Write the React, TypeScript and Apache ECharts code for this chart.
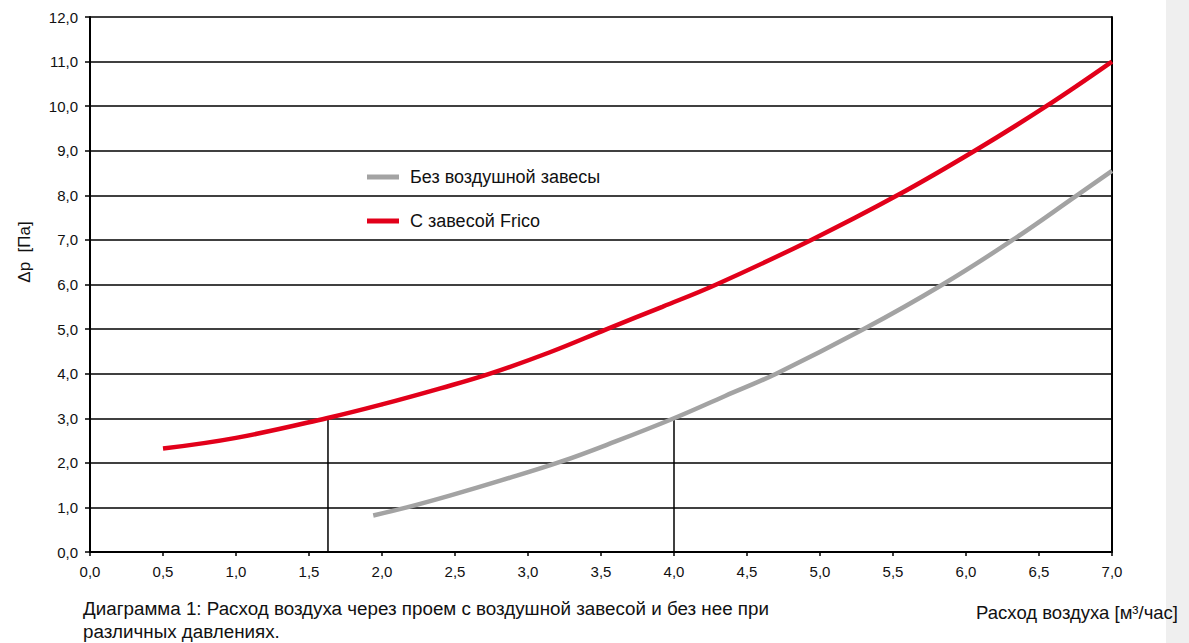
import React, { useEffect, useRef } from "react";
import * as echarts from "echarts";

const FONT = "'Liberation Sans', Arial, Helvetica, sans-serif";

const xTicks = { min: 0, max: 7, interval: 0.5 };
const yTicks = { min: 0, max: 12, interval: 1 };

const seriesNames = ["Без воздушной завесы", "С завесой Frico"];

const withoutCurtain: [number, number][] = [
  [1.94, 0.82], [2.17, 1.0], [2.47, 1.27], [2.81, 1.6], [3.22, 2.02],
  [3.6, 2.48], [4.0, 3.0], [4.35, 3.5], [4.7, 4.0], [5.3, 5.0],
  [5.84, 6.0], [6.32, 7.0], [6.76, 8.0], [7.0, 8.55],
];

const withCurtain: [number, number][] = [
  [0.5, 2.32], [1.0, 2.56], [1.62, 3.0], [2.0, 3.31], [2.4, 3.67],
  [2.74, 4.0], [3.15, 4.48], [3.54, 5.0], [3.92, 5.5], [4.29, 6.0],
  [4.94, 7.0], [5.53, 8.0], [6.06, 9.0], [6.55, 10.0], [7.0, 11.0],
];

const dropPoints: [number, number][] = [
  [1.63, 3.0],
  [4.0, 3.0],
];

const yAxisTitle = "Δp  [Па]";
const xAxisTitle = "Расход воздуха [м³/час]";
const captionLines = [
  "Диаграмма 1: Расход воздуха через проем с воздушной завесой и без нее при",
  "различных давлениях.",
];

const fmt = (v: number) => v.toFixed(1).replace(".", ",");

export default function App() {
  const ref = useRef<HTMLDivElement>(null);
  useEffect(() => {
    if (!ref.current) return;
    const chart = echarts.init(ref.current, undefined, { renderer: "svg" });
    const dropSeries = dropPoints.map((p, i) => ({
      name: "drop" + i,
      type: "line",
      data: [[p[0], 0], [p[0], p[1]]],
      symbol: "none",
      silent: true,
      lineStyle: { color: "#000", width: 1.5 },
      z: 1,
    }));
    chart.setOption({
      animation: false,
      backgroundColor: "#ffffff",
      textStyle: { fontFamily: FONT },
      grid: { left: 90, right: 77, top: 17, bottom: 91, containLabel: false },
      legend: {
        data: seriesNames,
        orient: "vertical",
        left: 362,
        top: 162,
        itemWidth: 32,
        itemHeight: 5,
        itemGap: 24,
        icon: "rect",
        textStyle: { fontSize: 18, color: "#111", lineHeight: 20, fontFamily: FONT, padding: [0, 0, 0, 6] },
      },
      xAxis: {
        type: "value",
        min: xTicks.min,
        max: xTicks.max,
        interval: xTicks.interval,
        axisLine: { show: true, onZero: false, lineStyle: { color: "#000", width: 2 } },
        axisTick: { show: true, inside: false, length: 4, lineStyle: { color: "#000", width: 1.5 } },
        axisLabel: { formatter: fmt, fontSize: 15, color: "#111", margin: 12, fontFamily: FONT },
        splitLine: { show: false },
      },
      yAxis: [
        {
          type: "value",
          min: yTicks.min,
          max: yTicks.max,
          interval: yTicks.interval,
          axisLine: { show: true, lineStyle: { color: "#000", width: 2 } },
          axisTick: { show: true, inside: false, length: 5, lineStyle: { color: "#000", width: 1.5 } },
          axisLabel: { formatter: fmt, fontSize: 15, color: "#111", margin: 12, fontFamily: FONT },
          splitLine: { show: true, lineStyle: { color: "#000", width: 1.5 } },
        },
        {
          type: "value",
          position: "right",
          min: yTicks.min,
          max: yTicks.max,
          interval: yTicks.interval,
          axisLine: { show: true, lineStyle: { color: "#000", width: 2 } },
          axisTick: { show: false },
          axisLabel: { show: false },
          splitLine: { show: false },
        },
      ],
      series: [
        {
          name: seriesNames[0],
          type: "line",
          data: withoutCurtain,
          smooth: 0.4,
          symbol: "none",
          color: "#a3a3a3",
          lineStyle: { color: "#a3a3a3", width: 4.5 },
          z: 3,
        },
        {
          name: seriesNames[1],
          type: "line",
          data: withCurtain,
          smooth: 0.4,
          symbol: "none",
          color: "#e2001a",
          lineStyle: { color: "#e2001a", width: 4.5 },
          z: 4,
        },
        ...dropSeries,
      ],
      graphic: [
        {
          type: "rect",
          shape: { x: 1166, y: 0, width: 23, height: 643 },
          style: { fill: "#efefef" },
          silent: true,
        },
        {
          type: "text",
          x: 24,
          y: 252,
          rotation: Math.PI / 2,
          style: {
            text: yAxisTitle,
            fontSize: 17,
            fontFamily: FONT,
            fill: "#111",
            align: "center",
            verticalAlign: "middle",
          },
        },
        {
          type: "text",
          x: 1178,
          y: 612,
          style: {
            text: xAxisTitle,
            fontSize: 18.5,
            fontFamily: FONT,
            fill: "#111",
            align: "right",
            verticalAlign: "middle",
          },
        },
        {
          type: "text",
          x: 83,
          y: 608,
          style: {
            text: captionLines[0],
            fontSize: 18.8,
            fontFamily: FONT,
            fill: "#111",
            align: "left",
            verticalAlign: "middle",
          },
        },
        {
          type: "text",
          x: 83,
          y: 631,
          style: {
            text: captionLines[1],
            fontSize: 18.8,
            fontFamily: FONT,
            fill: "#111",
            align: "left",
            verticalAlign: "middle",
          },
        },
      ],
    });
    return () => chart.dispose();
  }, []);
  return (
    <div
      ref={ref}
      style={{ position: "absolute", left: 0, top: 0, width: 1189, height: 643 }}
    />
  );
}
